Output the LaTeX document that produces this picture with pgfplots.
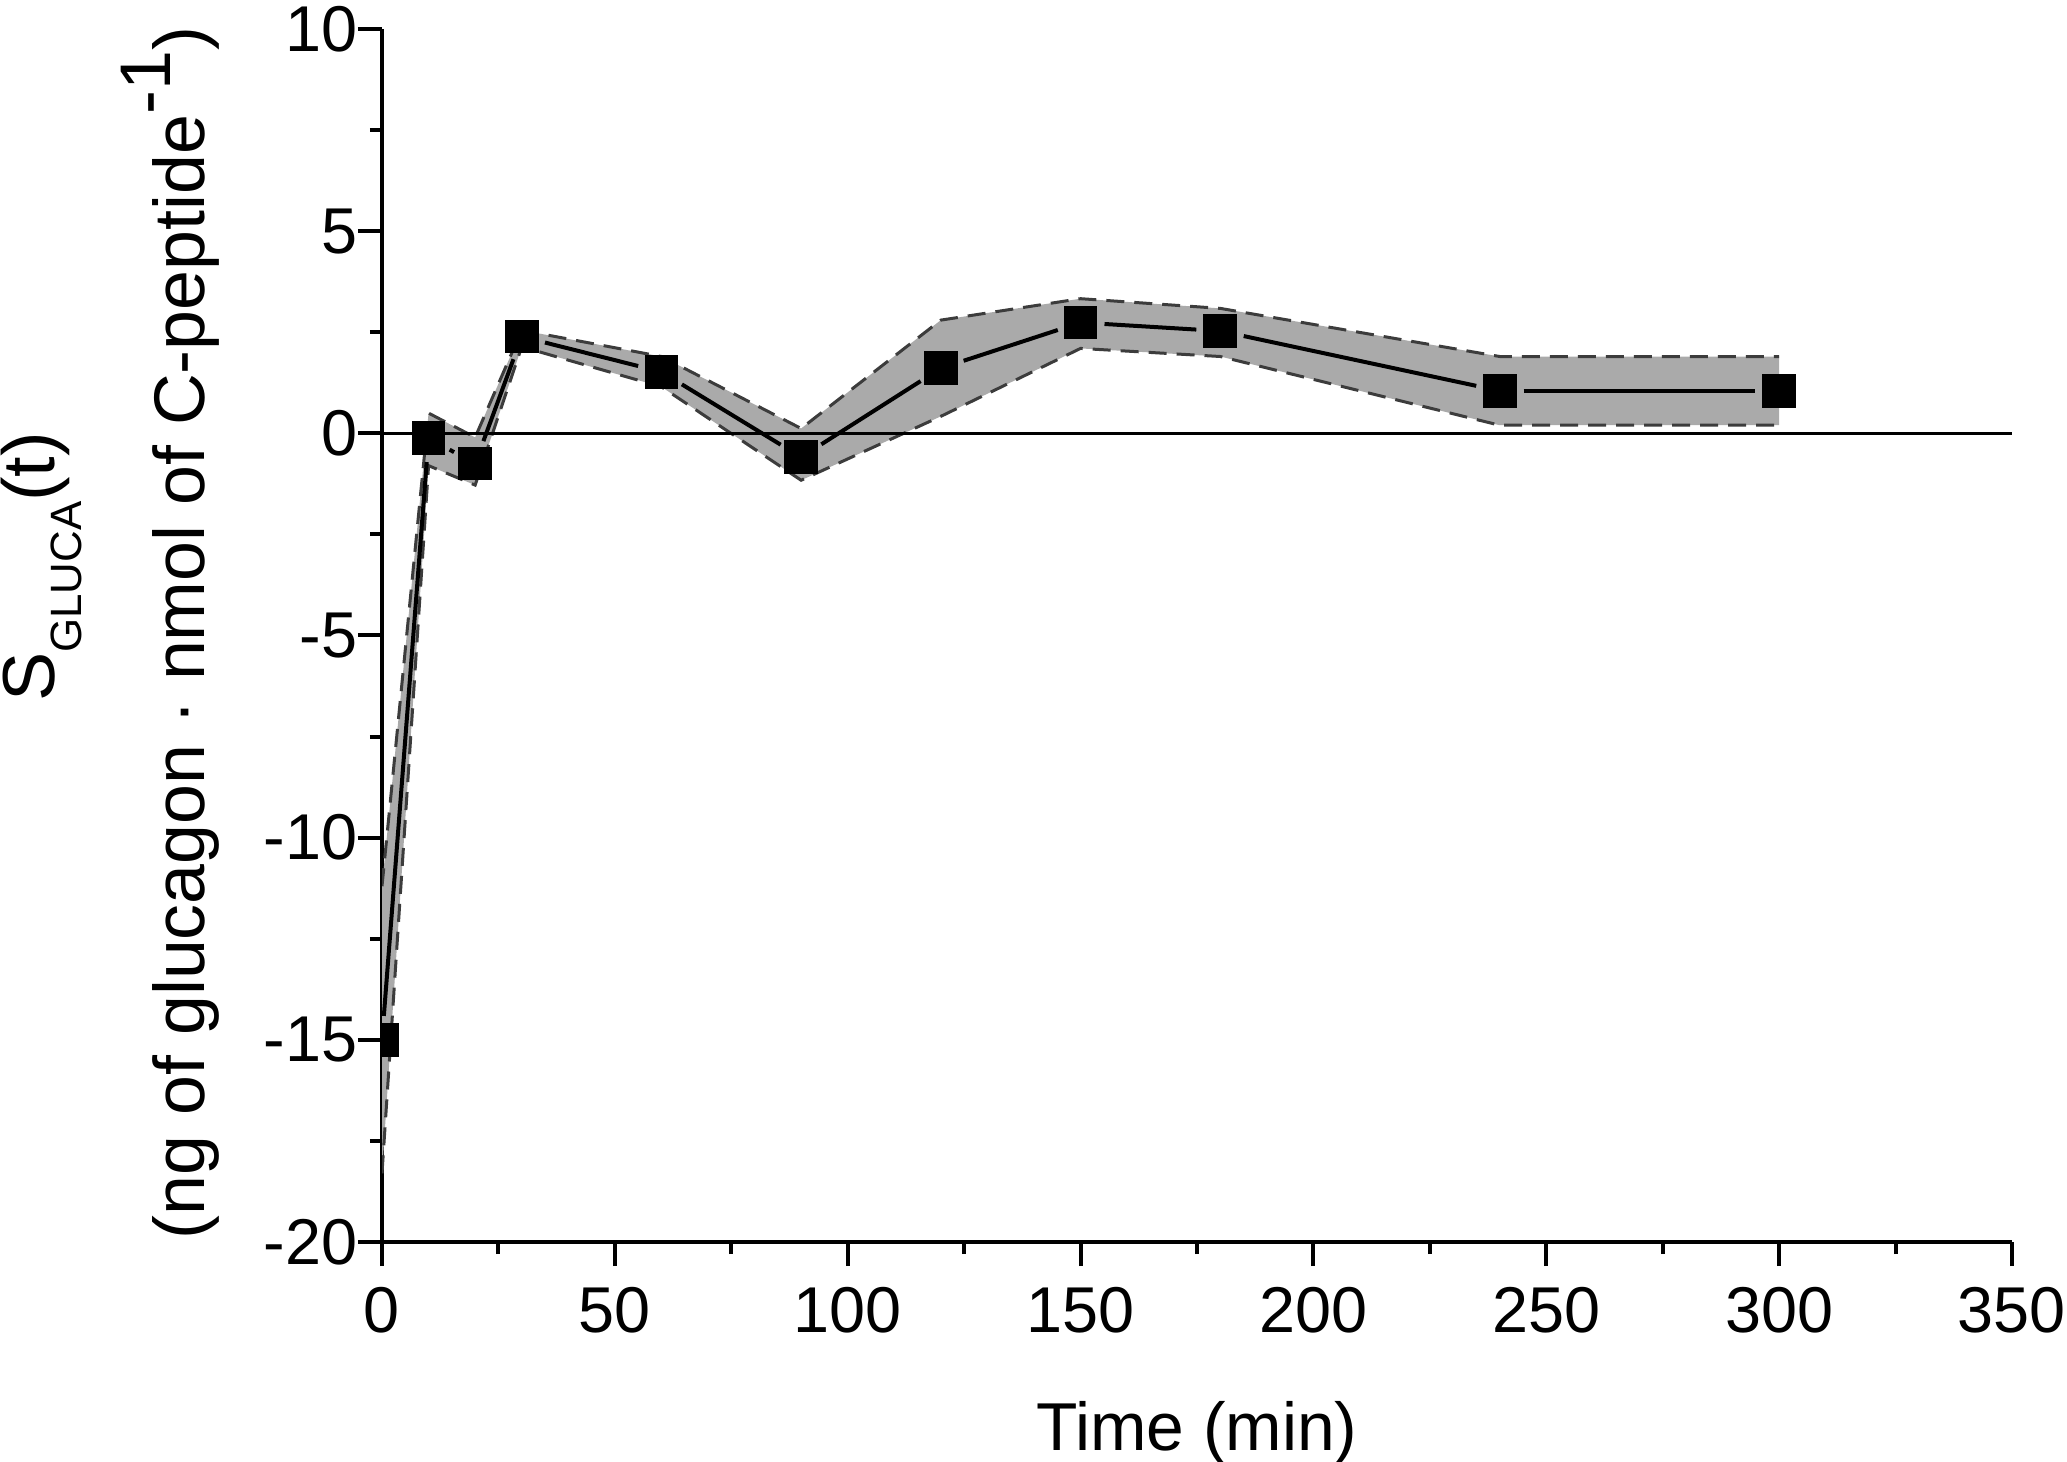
\documentclass[border=0pt]{standalone}
\usepackage{fontspec}
\setmainfont{Liberation Sans}
\usepackage{pgfplots}
\usepackage{pgfplotstable}
\pgfplotsset{compat=1.18}
\usepgfplotslibrary{fillbetween}
\definecolor{bandc}{RGB}{170,170,170}
\definecolor{dashc}{RGB}{60,60,60}

\pgfplotstableread{
t    mean   up     lo
0   -15.0  -11.2  -18.3
10  -0.12   0.5   -0.8
20  -0.75  -0.1   -1.28
30   2.39   2.55   2.14
60   1.52   1.9    1.15
90  -0.59   0.12  -1.16
120  1.61   2.8    0.42
150  2.74   3.33   2.1
180  2.53   3.09   1.9
240  1.05   1.9    0.2
300  1.05   1.9    0.2
}\datatab

\begin{document}
\begin{tikzpicture}
\begin{axis}[
  scale only axis, width=407.5bp, height=303.25bp,
  xmin=0, xmax=350, ymin=-20, ymax=10,
  axis x line*=bottom, axis y line*=left,
  axis line style={line width=1bp, black},
  xtick={0,50,...,350}, xticklabels={0,50,100,150,200,250,300,350},
  ytick={-20,-15,...,10}, yticklabels={-20,-15,-10,-5,0,5,10},
  minor xtick={25,75,...,325}, minor ytick={-17.5,-12.5,...,7.5},
  tick align=outside, major tick length=6bp, minor tick length=3bp,
  tick style={line width=1bp, black},
  tick label style={font=\fontsize{16.25}{19}\selectfont},
  xticklabel style={anchor=north, inner sep=0pt, yshift=-5bp},
  yticklabel style={anchor=east, inner sep=0pt},
  clip marker paths=true,
  seg/.style={black, solid, no marks, line width=1bp, shorten <=6bp, shorten >=6bp},
]
\addplot[name path=up, draw=none, no marks] table[x=t, y=up] {\datatab};
\addplot[name path=lo, draw=none, no marks] table[x=t, y=lo] {\datatab};
\addplot[fill=bandc, draw=none] fill between[of=up and lo];
\addplot[draw=dashc, no marks, line width=0.75bp, dash pattern=on 4.5bp off 2.5bp] table[x=t, y=up] {\datatab};
\addplot[draw=dashc, no marks, line width=0.75bp, dash pattern=on 4.5bp off 2.5bp] table[x=t, y=lo] {\datatab};
\addplot[black, no marks, line width=0.7bp] coordinates {(0,0) (350,0)};
\addplot[seg] coordinates {(0,-15.0) (10,-0.12)};
\addplot[seg] coordinates {(10,-0.12) (20,-0.75)};
\addplot[seg] coordinates {(20,-0.75) (30,2.39)};
\addplot[seg] coordinates {(30,2.39) (60,1.52)};
\addplot[seg] coordinates {(60,1.52) (90,-0.59)};
\addplot[seg] coordinates {(90,-0.59) (120,1.61)};
\addplot[seg] coordinates {(120,1.61) (150,2.74)};
\addplot[seg] coordinates {(150,2.74) (180,2.53)};
\addplot[seg] coordinates {(180,2.53) (240,1.05)};
\addplot[seg] coordinates {(240,1.05) (300,1.05)};
\addplot[only marks, mark=square*, mark size=4bp, mark options={black, solid}] table[x=t, y=mean] {\datatab};
\coordinate (sw) at (rel axis cs:0,0);
\coordinate (ne) at (rel axis cs:1,1);
\end{axis}
\node[rotate=90, anchor=base, font=\fontsize{18}{21}\selectfont] at ([shift={(-44.25bp,152.25bp)}]sw) {(ng of glucagon · nmol of C-peptide\raisebox{8.5bp}{-1})};
\node[rotate=90, anchor=base, font=\fontsize{18.5}{21}\selectfont] at ([shift={(-81.75bp,168.75bp)}]sw) {S\raisebox{-6.75bp}{\fontsize{11}{12}\selectfont GLUCA}(t)};
\node[anchor=base, font=\fontsize{17}{20}\selectfont] at ([shift={(203.75bp,-52bp)}]sw) {Time (min)};
\pgfresetboundingbox
\path[use as bounding box] ([shift={(-95.5bp,-55bp)}]sw) rectangle ([shift={(13.75bp,7.25bp)}]ne);
\end{tikzpicture}
\end{document}
